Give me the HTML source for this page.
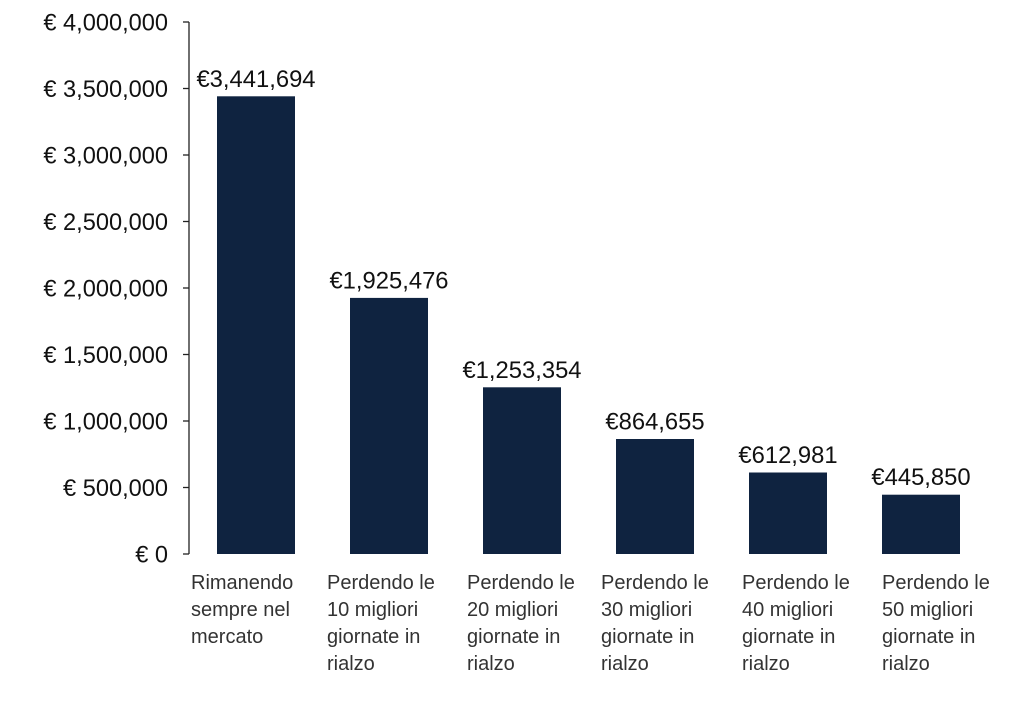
<!DOCTYPE html>
<html><head><meta charset="utf-8"><style>
body{margin:0;background:#fff;}
svg text{font-family:"Liberation Sans",Arial,sans-serif;}
</style></head><body>
<svg width="1024" height="703" viewBox="0 0 1024 703">
<rect width="1024" height="703" fill="#fff"/>
<g stroke="#222" stroke-width="1.3" fill="none">
<line x1="189" y1="22" x2="189" y2="554"/>
<line x1="183" y1="22" x2="189" y2="22"/>
<line x1="183" y1="88.5" x2="189" y2="88.5"/>
<line x1="183" y1="155" x2="189" y2="155"/>
<line x1="183" y1="221.5" x2="189" y2="221.5"/>
<line x1="183" y1="288" x2="189" y2="288"/>
<line x1="183" y1="354.5" x2="189" y2="354.5"/>
<line x1="183" y1="421" x2="189" y2="421"/>
<line x1="183" y1="487.5" x2="189" y2="487.5"/>
<line x1="183" y1="554" x2="189" y2="554"/>
</g>
<g font-size="23.6" fill="#111" text-anchor="end">
<text x="168" y="30.5">€ 4,000,000</text>
<text x="168" y="97">€ 3,500,000</text>
<text x="168" y="163.5">€ 3,000,000</text>
<text x="168" y="230">€ 2,500,000</text>
<text x="168" y="296.5">€ 2,000,000</text>
<text x="168" y="363">€ 1,500,000</text>
<text x="168" y="429.5">€ 1,000,000</text>
<text x="168" y="496">€ 500,000</text>
<text x="168" y="562.5">€ 0</text>
</g>
<g fill="#0f2340">
<rect x="217" y="96.3" width="78" height="457.7"/>
<rect x="350" y="297.9" width="78" height="256.1"/>
<rect x="483" y="387.3" width="78" height="166.7"/>
<rect x="616" y="439" width="78" height="115"/>
<rect x="749" y="472.5" width="78" height="81.5"/>
<rect x="882" y="494.7" width="78" height="59.3"/>
</g>
<g font-size="23.8" fill="#111" text-anchor="middle">
<text x="256" y="87">€3,441,694</text>
<text x="389" y="288.5">€1,925,476</text>
<text x="522" y="378">€1,253,354</text>
<text x="655" y="429.5">€864,655</text>
<text x="788" y="463">€612,981</text>
<text x="921" y="485">€445,850</text>
</g>
<g font-size="20" fill="#333">
<text x="191" y="589">Rimanendo</text><text x="191" y="616">sempre nel</text><text x="191" y="643">mercato</text>
<text x="327" y="589">Perdendo le</text><text x="327" y="616">10 migliori</text><text x="327" y="643">giornate in</text><text x="327" y="670">rialzo</text>
<text x="467" y="589">Perdendo le</text><text x="467" y="616">20 migliori</text><text x="467" y="643">giornate in</text><text x="467" y="670">rialzo</text>
<text x="601" y="589">Perdendo le</text><text x="601" y="616">30 migliori</text><text x="601" y="643">giornate in</text><text x="601" y="670">rialzo</text>
<text x="742" y="589">Perdendo le</text><text x="742" y="616">40 migliori</text><text x="742" y="643">giornate in</text><text x="742" y="670">rialzo</text>
<text x="882" y="589">Perdendo le</text><text x="882" y="616">50 migliori</text><text x="882" y="643">giornate in</text><text x="882" y="670">rialzo</text>
</g>
</svg>
</body></html>
